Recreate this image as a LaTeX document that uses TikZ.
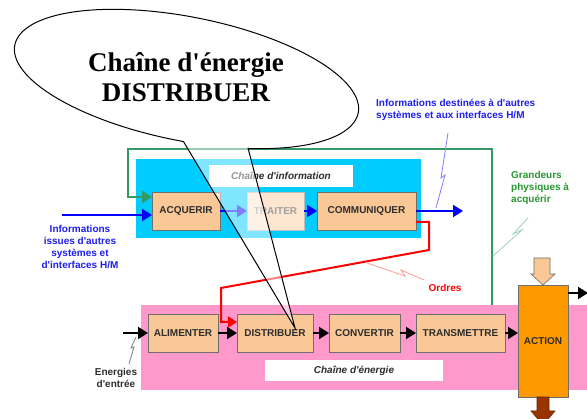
\documentclass[tikz,border=0pt]{standalone}
\usepackage{fontspec}
\setmainfont{Liberation Sans}[Ligatures=TeXOff]
\newfontfamily\serifbold{Liberation Serif}[Ligatures=TeXOff]
\usetikzlibrary{arrows.meta,calc}
\definecolor{peach}{RGB}{250,200,150}
\definecolor{boxborder}{RGB}{110,110,110}
\definecolor{textdark}{RGB}{45,45,45}
\definecolor{cyanbg}{RGB}{0,204,255}
\definecolor{pinkbg}{RGB}{255,153,204}
\definecolor{loopgreen}{RGB}{51,153,102}
\definecolor{textgreen}{RGB}{40,150,50}
\definecolor{textblue}{RGB}{30,30,240}
\definecolor{actionorange}{RGB}{255,153,0}
\definecolor{brownout}{RGB}{153,51,0}
\tikzset{
  stagebox/.style={draw=boxborder, fill=peach, line width=0.8pt, inner sep=0pt, outer sep=0pt,
    minimum height=38pt, text=textdark},
  blackarr/.style={line width=2pt, black, -{Triangle[length=10pt,width=12pt]}},
  bluearr/.style={line width=2pt, blue, -{Triangle[length=10pt,width=12pt]}},
  greenarr/.style={line width=2pt, loopgreen, -{Triangle[length=10pt,width=12pt]}},
  redarr/.style={line width=2pt, red, -{Triangle[length=9pt,width=11pt]}},
  bolt/.style={line width=0.8pt},
  chainlabel/.style={fill=white, inner sep=0pt, text=textdark, font=\fontsize{10}{12}\selectfont\bfseries\itshape},
}
\begin{document}
\begin{tikzpicture}[x=1pt,y=-1pt,font=\fontsize{10}{12}\selectfont\bfseries]
\clip (0,0) rectangle (587,419);
\fill[white] (0,0) rectangle (587,419);

% background chains
\fill[cyanbg] (136,159) rectangle (421,238);
\fill[pinkbg] (141,305) rectangle (587,390);
\node[chainlabel, minimum width=144pt, minimum height=22pt] (infolabel) at (281,176) {Chaîne d'information};
\node[chainlabel, minimum width=178pt, minimum height=21pt] (energylabel) at (354,370.5) {Chaîne d'énergie};

% information chain
\node[stagebox, minimum width=68pt] (acq) at (186,211) {ACQUERIR};
\node[stagebox, minimum width=57pt, fill=peach!45!white, draw=boxborder!45!white, text=textdark!45!white] (trait) at (275.5,211) {TRAITER};
\node[stagebox, minimum width=99pt] (comm) at (366.5,211) {COMMUNIQUER};

% energy chain
\node[stagebox, minimum width=70pt] (alim) at (183,333) {ALIMENTER};
\node[stagebox, minimum width=76pt] (distrib) at (275,333) {DISTRIBUER};
\node[stagebox, minimum width=71pt] (conv) at (364.5,333) {CONVERTIR};
\node[stagebox, minimum width=89pt] (trans) at (460.5,333) {TRANSMETTRE};
\node[stagebox, fill=actionorange, minimum width=50pt, minimum height=112pt] (action) at (543,341) {ACTION};

% coordinates for free ends
\coordinate (bin) at (62,215);
\coordinate (bout) at (463,211);
\coordinate (g0) at (492,305);
\coordinate (ein) at (123,333);
\coordinate (eout) at (588,293);

% connectors
\draw[greenarr] (g0) |- (128,149) |- ([yshift=14pt]acq.west);
\draw[bluearr] (bin) -- (bin -| acq.west);
\draw[bluearr] (acq.east) -- (trait.west);
\draw[bluearr] (trait.east) -- (comm.west);
\draw[bluearr] (comm.east) -- (bout);
\draw[redarr] ([yshift=8pt]comm.south east) -| (429,250) -- (221,288) |- ([yshift=11pt]distrib.west);
\draw[blackarr] (ein) -- (alim.west);
\draw[blackarr] (alim.east) -- (distrib.west);
\draw[blackarr] (distrib.east) -- (conv.west);
\draw[blackarr] (conv.east) -- (trans.west);
\draw[blackarr] (trans.east) -- (trans.east -| action.west);
\draw[blackarr] (action.east |- eout) -- (eout);

% block arrows on ACTION
\filldraw[fill=peach, draw=boxborder, line width=0.6pt]
  (534,258) -- (550,258) -- (550,274) -- (555,274) -- (543,285) -- (531,274) -- (534,274) -- cycle;
\filldraw[fill=brownout, draw=brownout!70!black, line width=0.6pt]
  (537,397) -- (549,397) -- (549,411) -- (555,411) -- (543,425) -- (531,411) -- (537,411) -- cycle;

% lightning bolts
\draw[bolt, blue!50] (448,133) -- (441,178) -- (445,175) -- (436,208);
\draw[bolt, red!40] (367,263) -- (405,276) -- (401,270) -- (424,280);
\draw[bolt, loopgreen!45] (528,218) -- (513,234) -- (522,230) -- (493,256);
\draw[bolt, gray] (129,364) -- (134,347) -- (131,348) -- (136,337);

% texts
\node[text=textblue, align=center, anchor=north, inner sep=0pt] (tin) at (80,225)
  {Informations\\issues d'autres\\systèmes et\\d'interfaces H/M};
\node[text=textblue, align=left, anchor=north west, inner sep=0pt] (tout) at (376,99)
  {Informations destinées à d'autres\\systèmes et aux interfaces H/M};
\node[text=textgreen, align=left, anchor=north west, inner sep=0pt] (tgrand) at (511,171)
  {Grandeurs\\physiques à\\acquérir};
\node[text=red, inner sep=0pt] (tordres) at (445,288) {Ordres};
\node[text=textdark, align=center, inner sep=0pt] (tenergies) at (116,377.5) {Energies\\d'entrée};

% callout
\coordinate (tip) at ([xshift=20pt,yshift=5pt]distrib.center);
\begin{scope}[shift={(186.5,79)}, x=1pt, y=1pt, rotate=-11.2]
  \filldraw[fill=white, fill opacity=0.5, draw=black, line width=1pt]
    (-65:175 and 62) arc[start angle=-65, end angle=273, x radius=175, y radius=62]
    -- (tip) -- cycle;
\end{scope}
\node[align=center, inner sep=0pt, font=\serifbold\bfseries\fontsize{27}{30}\selectfont] (callouttext) at (186,77)
  {Chaîne d'énergie\\DISTRIBUER};
\end{tikzpicture}
\end{document}
